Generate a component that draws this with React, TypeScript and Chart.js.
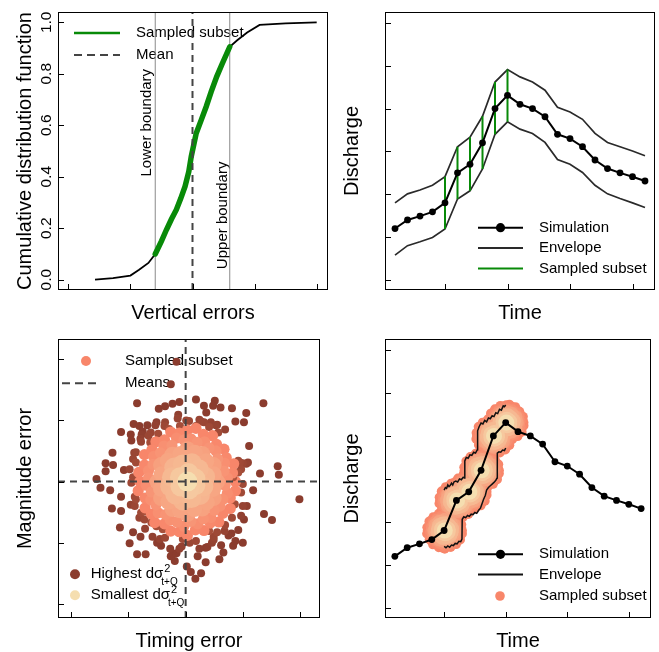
import React, { useEffect, useRef } from "react";
import { Chart, registerables } from "chart.js";
Chart.register(...registerables);

const FONT = '"Liberation Sans", Arial, Helvetica, sans-serif';

// ---------------- Panel A: CDF of vertical errors ----------------
const cdfErrors = [-1.57, -1.28, -1.0, -0.86, -0.71, -0.6, -0.5, -0.42, -0.34, -0.26, -0.19, -0.12, -0.06, -0.02, 0.06, 0.14, 0.22, 0.3, 0.39, 0.48, 0.6, 0.72, 0.88, 1.08, 1.5, 2.0];
const cdfProbs = [0, 0.006, 0.016, 0.039, 0.065, 0.1, 0.15, 0.194, 0.235, 0.272, 0.315, 0.362, 0.42, 0.479, 0.569, 0.62, 0.672, 0.73, 0.789, 0.84, 0.905, 0.93, 0.96, 0.99, 0.996, 1.0];
const subsetErrors = [-0.6, -0.5, -0.42, -0.34, -0.26, -0.19, -0.12, -0.06, -0.02, 0.06, 0.14, 0.22, 0.3, 0.39, 0.48, 0.6];
const subsetProbs = [0.1, 0.15, 0.194, 0.235, 0.272, 0.315, 0.362, 0.42, 0.479, 0.569, 0.62, 0.672, 0.73, 0.789, 0.84, 0.905];
const meanError = 0;
const lowerBoundary = -0.6;
const upperBoundary = 0.6;
const errorTicks = [-2, -1, 0, 1, 2];
const probTicks = [0, 0.2, 0.4, 0.6, 0.8, 1.0];
const probTickLabels = ["0.0", "0.2", "0.4", "0.6", "0.8", "1.0"];

// ---------------- Panels B & D: hydrograph ----------------
const timeSteps = [1, 2, 3, 4, 5, 6, 7, 8, 9, 10, 11, 12, 13, 14, 15, 16, 17, 18, 19, 20, 21];
const simulation = [1.2, 1.4, 1.49, 1.59, 1.8, 2.5, 2.7, 3.2, 4.0, 4.31, 4.1, 4.0, 3.81, 3.4, 3.3, 3.11, 2.8, 2.6, 2.5, 2.41, 2.31];
const envelopeUpper = [1.8, 2.01, 2.1, 2.21, 2.41, 3.11, 3.33, 3.82, 4.62, 4.91, 4.74, 4.62, 4.43, 4.03, 3.92, 3.75, 3.42, 3.21, 3.11, 3.01, 2.9];
const envelopeLower = [0.58, 0.8, 0.89, 0.99, 1.19, 1.89, 2.08, 2.59, 3.4, 3.69, 3.52, 3.42, 3.21, 2.81, 2.7, 2.51, 2.21, 2.01, 1.9, 1.8, 1.69];
const sampledSteps = [5, 6, 7, 8, 9, 10];
const timeTicks = [5, 10, 15, 20];
const dischargeTicks = [0, 1, 2, 3, 4, 5, 6];

// jagged envelope of panel D
const upperJagTime = [5.0, 5.1, 5.2, 5.3, 5.4, 5.5, 5.6, 5.7, 5.8, 5.95, 6.1, 6.25, 6.4, 6.55, 6.65, 6.68, 6.8, 6.95, 7.1, 7.25, 7.4, 7.55, 7.7, 7.72, 7.85, 8.0, 8.15, 8.3, 8.45, 8.6, 8.75, 8.9, 9.05, 9.2, 9.35, 9.5, 9.65, 9.8, 9.9, 10.0];
const upperJagQ = [2.74, 2.8, 2.78, 2.86, 2.82, 2.85, 2.9, 2.86, 2.93, 2.95, 2.93, 3.0, 2.98, 3.04, 3.02, 3.42, 3.5, 3.48, 3.56, 3.55, 3.62, 3.6, 3.68, 4.12, 4.22, 4.3, 4.28, 4.36, 4.33, 4.42, 4.4, 4.47, 4.45, 4.54, 4.52, 4.62, 4.6, 4.7, 4.68, 4.72];
const lowerJagTime = [5.0, 5.15, 5.3, 5.45, 5.6, 5.75, 5.9, 6.05, 6.2, 6.35, 6.45, 6.47, 6.6, 6.75, 6.9, 7.05, 7.2, 7.35, 7.5, 7.65, 7.8, 7.95, 8.05, 8.2, 8.35, 8.45, 8.6, 8.75, 8.9, 9.05, 9.2, 9.3, 9.32, 9.45, 9.6, 9.75, 9.9, 10.0];
const lowerJagQ = [1.43, 1.4, 1.44, 1.41, 1.46, 1.45, 1.5, 1.49, 1.55, 1.54, 1.6, 2.06, 2.12, 2.1, 2.15, 2.13, 2.18, 2.17, 2.22, 2.2, 2.27, 2.32, 2.4, 2.52, 2.62, 2.74, 2.8, 2.84, 2.88, 2.92, 2.97, 3.02, 3.6, 3.63, 3.62, 3.67, 3.66, 3.72];

// ---------------- Panel C: timing vs magnitude errors ----------------
// [timing error, magnitude error], points with highest dσ²
const outerErrors: [number, number][] = [
  [-0.16, 1.96], [-0.26, 1.59], [-0.85, 1.28], [-0.47, 1.19], [-0.36, 1.23], [-0.23, 1.27], [-0.11, 1.3], [0.18, 1.34], [0.32, 1.24], [0.51, 1.32],
  [0.61, 1.21], [0.36, 1.13], [0.81, 1.2], [1.06, 1.12], [1.36, 1.28], [0.87, 0.98], [1.02, 0.97], [-0.13, 1.09], [-0.14, 1.03], [-0.51, 0.97],
  [-0.36, 0.97], [-0.91, 0.94], [-0.81, 0.91], [-0.67, 0.92], [-1.13, 0.81], [-0.96, 0.77], [-0.95, 0.67], [-0.77, 0.77], [-0.61, 0.8], [-0.78, 0.65],
  [-0.9, 0.47], [-1.28, 0.47], [-1.4, 0.3], [-1.27, 0.27], [-1.4, 0.17], [-1.56, 0.04], [-1.49, -0.1], [-1.32, -0.14], [-1.08, 0.19], [-0.98, 0.2],
  [-0.92, 0.07], [-1.13, -0.25], [-0.89, -0.25], [-1.29, -0.44], [-1.13, -0.48], [-1.15, -0.75], [-0.92, -0.83], [-0.79, -0.9], [-0.98, -1.01], [-0.85, -1.19],
  [-0.7, -1.19], [-0.58, -0.9], [-0.45, -0.94], [-0.36, -0.92], [-0.27, -1.1], [-0.11, -1.1], [-0.16, -1.17], [-0.19, -1.3], [-0.43, -1.05], [-0.26, -1.22],
  [0.02, -1.39], [0.09, -1.48], [0.27, -1.5], [0.17, -1.59], [0.21, -1.22], [0.35, -1.08], [0.46, -1.0], [0.62, -1.04], [0.66, -1.16], [0.83, -1.05],
  [1.0, -1.0], [0.92, -0.79], [0.8, -0.85], [0.68, -0.81], [0.55, -0.83], [0.49, -0.9], [0.41, -0.81], [0.69, -0.71], [0.81, -0.59], [0.97, -0.56],
  [1.0, -0.4], [0.86, -0.37], [0.97, -0.18], [1.0, -0.04], [1.37, -0.53], [1.51, -0.63], [1.99, -0.29], [1.63, 0.11], [1.61, 0.25], [1.3, 0.13],
  [1.11, 0.58], [1.0, 0.3], [1.09, 0.31], [0.92, 0.34], [0.97, 0.2], [0.89, 0.15], [0.83, 0.07], [0.69, 0.53], [0.69, 0.85], [0.57, 0.8],
  [0.53, 0.92], [0.44, 0.97], [0.27, 0.98], [0.18, 0.91], [0.06, 0.99], [-0.1, 0.91], [-0.62, 0.64], [-0.87, 0.31], [-0.95, -0.02], [-0.89, -0.4],
  [-0.78, -0.51], [-0.72, -0.62], [-0.6, -0.67], [-0.51, -0.73], [-0.4, -0.78], [-0.05, -0.94], [0.07, -1.0], [0.18, -0.97], [1.18, -0.14], [1.07, -0.4],
  [1.02, -0.62], [0.87, -0.97], [0.59, -1.27], [0.35, -1.32], [0.38, -1.07], [0.24, -1.1], [0.75, -0.88], [0.49, -0.95], [-0.96, -0.38], [-0.87, -0.29],
  [-0.71, -0.77], [-0.5, -1.0], [-0.22, -1.18], [-0.07, -1.06], [-0.71, -0.49], [-0.81, -0.59], [0.48, 1.24], [0.24, 1.01], [0.32, 0.97], [0.41, 0.89],
  [0.55, 0.93], [0.95, 0.31], [1.06, 0.29], [0.92, 0.15], [0.01, 1.0], [-0.53, 0.92], [-0.75, 0.82], [-0.79, 0.7], [-0.65, 0.75], [-0.48, 0.78],
  [-0.37, 0.91], [-0.29, 0.86], [-0.87, 0.48], [-0.92, 0.37],
];
// [timing error, magnitude error], sampled subset (smallest dσ²)
const sampledErrors: [number, number][] = [
  [0.87, 0.0], [0.82, 0.14], [0.84, 0.29], [0.71, 0.39], [0.67, 0.53], [0.54, 0.61], [0.47, 0.75], [0.31, 0.77], [0.18, 0.87], [0.03, 0.84],
  [-0.11, 0.79], [-0.26, 0.81], [-0.37, 0.68], [-0.52, 0.65], [-0.59, 0.52], [-0.72, 0.44], [-0.72, 0.27], [-0.82, 0.15], [-0.8, 0.0], [-0.83, -0.15],
  [-0.71, -0.27], [-0.71, -0.43], [-0.6, -0.53], [-0.54, -0.67], [-0.37, -0.69], [-0.26, -0.81], [-0.11, -0.82], [0.03, -0.88], [0.17, -0.79], [0.32, -0.8],
  [0.43, -0.68], [0.58, -0.66], [0.65, -0.52], [0.78, -0.44], [0.78, -0.27], [0.87, -0.15],
  [0.73, 0.06], [0.67, 0.17], [0.68, 0.3], [0.56, 0.37], [0.53, 0.5], [0.41, 0.55], [0.33, 0.65], [0.2, 0.64], [0.09, 0.7], [-0.03, 0.68],
  [-0.16, 0.71], [-0.24, 0.59], [-0.38, 0.58], [-0.44, 0.47], [-0.56, 0.41], [-0.57, 0.28], [-0.65, 0.18], [-0.65, 0.06], [-0.69, -0.06], [-0.6, -0.17],
  [-0.61, -0.3], [-0.52, -0.38], [-0.48, -0.51], [-0.35, -0.54], [-0.27, -0.63], [-0.15, -0.66], [-0.03, -0.73], [0.09, -0.65], [0.21, -0.69], [0.31, -0.61],
  [0.44, -0.59], [0.5, -0.47], [0.6, -0.4], [0.65, -0.29], [0.73, -0.19], [0.69, -0.06],
  [0.55, 0.0], [0.49, 0.12], [0.49, 0.27], [0.36, 0.33], [0.29, 0.45], [0.16, 0.47], [0.03, 0.53], [-0.09, 0.45], [-0.23, 0.44], [-0.31, 0.34],
  [-0.43, 0.27], [-0.42, 0.12], [-0.49, 0.0], [-0.43, -0.12], [-0.43, -0.27], [-0.3, -0.33], [-0.23, -0.45], [-0.1, -0.47], [0.03, -0.53], [0.15, -0.45],
  [0.29, -0.44], [0.37, -0.34], [0.49, -0.27], [0.48, -0.12],
  [0.34, 0.08], [0.23, 0.2], [0.11, 0.3], [-0.05, 0.28], [-0.2, 0.23], [-0.24, 0.07], [-0.27, -0.08], [-0.18, -0.21], [-0.05, -0.31], [0.1, -0.27],
  [0.25, -0.22], [0.31, -0.08],
  [0.17, 0.05], [0.05, 0.14], [-0.1, 0.07], [-0.09, -0.08], [0.06, -0.13], [0.17, -0.06], [0.03, 0.0],
];
const meanTiming = 0;
const meanMagnitude = 0;
const timingTicks = [-2, -1, 0, 1, 2];
const magnitudeTicks = [-2, -1, 0, 1, 2];

// ---------------- styles ----------------
const GREEN = "#088a08";
const WHEAT = [245, 222, 176];
const SALMON = [248, 134, 106];
const BROWN = [139, 60, 46];
const BROWN_EDGE = [172, 82, 60];
const DISC_CENTER = 0.03;

const mix = (a: number[], b: number[], t: number) =>
  `rgb(${a.map((v, i) => Math.round(v + (b[i] - v) * t)).join(",")})`;
const radiusOf = (t: number, m: number) => Math.hypot(t - DISC_CENTER, m);
const discColor = (r: number) => mix(WHEAT, SALMON, Math.pow(Math.min(1, r / 0.82), 0.8));
const outerColor = (r: number) => mix(BROWN_EDGE, BROWN, Math.max(0, Math.min(1, (r - 0.85) / 0.3)));
const discSize = (r: number, sizes: number[]) => (r > 0.6 ? sizes[0] : r > 0.4 ? sizes[1] : sizes[2]);

function drawText(ctx: CanvasRenderingContext2D, s: string, x: number, y: number, size: number,
  align: CanvasTextAlign = "left", rot = 0, color = "#000") {
  ctx.save();
  ctx.translate(x, y);
  if (rot) ctx.rotate(rot);
  ctx.font = `${size}px ${FONT}`;
  ctx.fillStyle = color;
  ctx.textAlign = align;
  ctx.textBaseline = "middle";
  ctx.fillText(s, 0, 0);
  ctx.restore();
}
function legendLine(ctx: CanvasRenderingContext2D, x1: number, x2: number, y: number, color: string, w: number, dash: number[] = []) {
  ctx.save();
  ctx.strokeStyle = color; ctx.lineWidth = w; ctx.setLineDash(dash);
  ctx.beginPath(); ctx.moveTo(x1, y); ctx.lineTo(x2, y); ctx.stroke();
  ctx.restore();
}
function legendDot(ctx: CanvasRenderingContext2D, x: number, y: number, r: number, color: string) {
  ctx.save(); ctx.fillStyle = color; ctx.beginPath(); ctx.arc(x, y, r, 0, Math.PI * 2); ctx.fill(); ctx.restore();
}
function sigmaLabel(ctx: CanvasRenderingContext2D, word: string, x: number, y: number) {
  const base = word + " dσ";
  drawText(ctx, base, x, y, 15);
  ctx.save(); ctx.font = `15px ${FONT}`; const w = ctx.measureText(base).width; ctx.restore();
  drawText(ctx, "2", x + w + 1, y - 5, 11);
  drawText(ctx, "t+Q", x + w - 2, y + 8, 10);
}

type FrameSpec = {
  xTicks: number[]; yTicks: number[]; yTickLabels?: string[];
  xTitle: string; yTitle: string;
  under?: (ctx: CanvasRenderingContext2D, chart: any) => void;
};
function framePlugin(spec: FrameSpec) {
  return {
    id: "frame",
    beforeDatasetsDraw(chart: any) {
      if (spec.under) { chart.ctx.save(); spec.under(chart.ctx, chart); chart.ctx.restore(); }
    },
    afterDatasetsDraw(chart: any) {
      const ctx: CanvasRenderingContext2D = chart.ctx;
      const a = chart.chartArea; const xs = chart.scales.x; const ys = chart.scales.y;
      ctx.save();
      ctx.strokeStyle = "#000"; ctx.lineWidth = 1; ctx.setLineDash([]);
      ctx.strokeRect(a.left + 0.5, a.top + 0.5, a.right - a.left - 1, a.bottom - a.top - 1);
      ctx.beginPath();
      for (const v of spec.xTicks) {
        const px = Math.round(xs.getPixelForValue(v)) + 0.5;
        ctx.moveTo(px, a.bottom); ctx.lineTo(px, a.bottom - 6);
      }
      for (const v of spec.yTicks) {
        const py = Math.round(ys.getPixelForValue(v)) + 0.5;
        ctx.moveTo(a.left, py); ctx.lineTo(a.left + 6, py);
      }
      ctx.stroke();
      if (spec.yTickLabels) {
        spec.yTicks.forEach((v, i) => {
          drawText(ctx, spec.yTickLabels![i], a.left - 11, ys.getPixelForValue(v), 15.5, "center", -Math.PI / 2);
        });
      }
      drawText(ctx, spec.xTitle, (a.left + a.right) / 2, a.bottom + 23, 20, "center");
      drawText(ctx, spec.yTitle, a.left - 33, (a.top + a.bottom) / 2, 20, "center", -Math.PI / 2);
      ctx.restore();
    },
  };
}

function baseOptions(xr: number[], yr: number[], pad: any) {
  return {
    responsive: false,
    animation: false as const,
    devicePixelRatio: 1,
    events: [],
    layout: { padding: pad },
    plugins: { legend: { display: false }, tooltip: { enabled: false }, colors: { enabled: false } },
    scales: {
      x: { type: "linear" as const, min: xr[0], max: xr[1], display: false },
      y: { type: "linear" as const, min: yr[0], max: yr[1], display: false },
    },
    elements: { line: { tension: 0 }, point: { radius: 0, hoverRadius: 0 } },
  };
}

const ERR_RANGE = [-2.166, 2.182];
const PROB_RANGE = [-0.04, 1.04];
const TIME_RANGE = [0.2, 21.8];
const Q_RANGE = [-0.235, 6.255];
const TIMING_RANGE = [-2.233, 2.35];
const MAG_RANGE = [-2.23, 2.33];

const pts = (xs: number[], ys: number[]) => xs.map((x, i) => ({ x, y: ys[i] }));

function configA(): any {
  return {
    type: "line",
    data: {
      datasets: [
        { data: [{ x: meanError, y: PROB_RANGE[0] }, { x: meanError, y: PROB_RANGE[1] }], borderColor: "#444", borderWidth: 2, borderDash: [7, 5], order: 0 },
        { data: pts(subsetErrors, subsetProbs), borderColor: GREEN, borderWidth: 5.5, borderCapStyle: "round", order: 1 },
        { data: pts(cdfErrors, cdfProbs), borderColor: "#000", borderWidth: 1.8, order: 2 },
        { data: [{ x: lowerBoundary, y: PROB_RANGE[0] }, { x: lowerBoundary, y: PROB_RANGE[1] }], borderColor: "#8a8a8a", borderWidth: 1, order: 3 },
        { data: [{ x: upperBoundary, y: PROB_RANGE[0] }, { x: upperBoundary, y: PROB_RANGE[1] }], borderColor: "#8a8a8a", borderWidth: 1, order: 3 },
      ],
    },
    options: baseOptions(ERR_RANGE, PROB_RANGE, { left: 58, top: 12, right: 2, bottom: 36 }),
    plugins: [framePlugin({
      xTicks: errorTicks, yTicks: probTicks, yTickLabels: probTickLabels,
      xTitle: "Vertical errors", yTitle: "Cumulative distribution function",
      under: (ctx, chart) => {
        legendLine(ctx, 74, 120, 33, GREEN, 2.5);
        drawText(ctx, "Sampled subset", 136, 33, 15);
        legendLine(ctx, 74, 120, 55, "#444", 2, [8, 5]);
        drawText(ctx, "Mean", 136, 55, 15);
        const xs = chart.scales.x, ys = chart.scales.y;
        drawText(ctx, "Lower boundary", xs.getPixelForValue(lowerBoundary) - 8, ys.getPixelForValue(0.61), 15, "center", -Math.PI / 2);
        drawText(ctx, "Upper boundary", xs.getPixelForValue(upperBoundary) - 7, ys.getPixelForValue(0.25), 15, "center", -Math.PI / 2);
      },
    })],
  };
}

function configB(): any {
  const segs: any[] = [];
  sampledSteps.forEach((s) => {
    segs.push({ x: s, y: envelopeLower[s - 1] }, { x: s, y: envelopeUpper[s - 1] }, { x: s, y: null });
  });
  return {
    type: "line",
    data: {
      datasets: [
        { data: pts(timeSteps, simulation), borderColor: "#000", borderWidth: 2, pointRadius: 3.4, pointBackgroundColor: "#000", pointBorderWidth: 0, order: 0 },
        { data: segs, borderColor: GREEN, borderWidth: 2, spanGaps: false, order: 1 },
        { data: pts(timeSteps, envelopeUpper), borderColor: "#2a2a2a", borderWidth: 1.7, order: 2 },
        { data: pts(timeSteps, envelopeLower), borderColor: "#2a2a2a", borderWidth: 1.7, order: 2 },
      ],
    },
    options: baseOptions(TIME_RANGE, Q_RANGE, { left: 55, top: 12, right: 4, bottom: 36 }),
    plugins: [framePlugin({
      xTicks: timeTicks, yTicks: dischargeTicks, xTitle: "Time", yTitle: "Discharge",
      under: (ctx) => {
        legendLine(ctx, 148, 193, 227.7, "#000", 2); legendDot(ctx, 170.5, 227.7, 4.6, "#000");
        drawText(ctx, "Simulation", 209, 227.7, 15);
        legendLine(ctx, 148, 193, 248, "#2a2a2a", 1.8);
        drawText(ctx, "Envelope", 209, 248, 15);
        legendLine(ctx, 148, 193, 268.5, GREEN, 2);
        drawText(ctx, "Sampled subset", 209, 268.5, 15);
      },
    })],
  };
}

function configC(): any {
  const all = [
    ...outerErrors.map(([t, m]) => { const r = radiusOf(t, m); return { x: t, y: m, r, c: outerColor(r), s: 4 }; }),
    ...sampledErrors.map(([t, m]) => { const r = radiusOf(t, m); return { x: t, y: m, r, c: discColor(r), s: discSize(r, [5.6, 8, 10]) }; }),
  ].sort((a, b) => b.r - a.r);
  return {
    type: "line",
    data: {
      datasets: [
        { data: [{ x: meanTiming, y: MAG_RANGE[0] }, { x: meanTiming, y: MAG_RANGE[1] }], borderColor: "#444", borderWidth: 2, borderDash: [7, 5], order: 0 },
        { data: [{ x: TIMING_RANGE[0], y: meanMagnitude }, { x: TIMING_RANGE[1], y: meanMagnitude }], borderColor: "#444", borderWidth: 2, borderDash: [7, 5], order: 0 },
        {
          data: all.map((p) => ({ x: p.x, y: p.y })), showLine: false,
          pointRadius: all.map((p) => p.s), pointBackgroundColor: all.map((p) => p.c),
          pointBorderWidth: 0, order: 1,
        },
      ],
    },
    options: baseOptions(TIMING_RANGE, MAG_RANGE, { left: 58, top: 13, right: 2, bottom: 34 }),
    plugins: [framePlugin({
      xTicks: timingTicks, yTicks: magnitudeTicks, xTitle: "Timing error", yTitle: "Magnitude error",
      under: (ctx) => {
        legendDot(ctx, 86, 35, 5, mix(SALMON, SALMON, 0));
        drawText(ctx, "Sampled subset", 125, 35, 15);
        legendLine(ctx, 62, 100, 57.3, "#444", 2, [8, 5]);
        drawText(ctx, "Means", 125, 57.3, 15);
        legendDot(ctx, 75, 248.3, 5, mix(BROWN, BROWN, 0));
        sigmaLabel(ctx, "Highest", 90.7, 248.3);
        legendDot(ctx, 75, 269.3, 5, mix(WHEAT, WHEAT, 0));
        sigmaLabel(ctx, "Smallest", 90.7, 269.3);
      },
    })],
  };
}

function configD(): any {
  const blob: any[] = [];
  sampledSteps.forEach((s) => {
    sampledErrors.forEach(([t, m]) => {
      const r = radiusOf(t, m);
      blob.push({ x: s + t * 1.7, y: simulation[s - 1] + m * 0.49, r, c: discColor(r), s: discSize(r, [4.6, 6.5, 8]) });
    });
  });
  blob.sort((a, b) => b.r - a.r);
  return {
    type: "line",
    data: {
      datasets: [
        { data: pts(timeSteps, simulation), borderColor: "#000", borderWidth: 2, pointRadius: 3.4, pointBackgroundColor: "#000", pointBorderWidth: 0, order: 0 },
        { data: pts(upperJagTime, upperJagQ), borderColor: "#111", borderWidth: 1.5, order: 1 },
        { data: pts(lowerJagTime, lowerJagQ), borderColor: "#111", borderWidth: 1.5, order: 1 },
        {
          data: blob.map((p) => ({ x: p.x, y: p.y })), showLine: false,
          pointRadius: blob.map((p) => p.s), pointBackgroundColor: blob.map((p) => p.c),
          pointBorderWidth: 0, order: 2,
        },
      ],
    },
    options: baseOptions(TIME_RANGE, Q_RANGE, { left: 55, top: 13, right: 4, bottom: 34 }),
    plugins: [framePlugin({
      xTicks: timeTicks, yTicks: dischargeTicks, xTitle: "Time", yTitle: "Discharge",
      under: (ctx) => {
        legendLine(ctx, 148, 193, 228.3, "#000", 2); legendDot(ctx, 170.5, 228.3, 4.6, "#000");
        drawText(ctx, "Simulation", 209, 228.3, 15);
        legendLine(ctx, 148, 193, 248.5, "#111", 1.8);
        drawText(ctx, "Envelope", 209, 248.5, 15);
        legendDot(ctx, 170, 270, 4.8, mix(SALMON, SALMON, 0));
        drawText(ctx, "Sampled subset", 209, 270, 15);
      },
    })],
  };
}

export default function App() {
  const a = useRef<HTMLCanvasElement>(null);
  const b = useRef<HTMLCanvasElement>(null);
  const c = useRef<HTMLCanvasElement>(null);
  const d = useRef<HTMLCanvasElement>(null);
  useEffect(() => {
    const charts = [
      new Chart(a.current!, configA()),
      new Chart(b.current!, configB()),
      new Chart(c.current!, configC()),
      new Chart(d.current!, configD()),
    ];
    return () => charts.forEach((ch) => ch.destroy());
  }, []);
  const st = (left: number, top: number): React.CSSProperties => ({ position: "absolute", left, top });
  return (
    <div style={{ position: "fixed", left: 0, top: 0, width: 659, height: 652, background: "#fff" }}>
      <canvas ref={a} width={330} height={326} style={st(0, 0)} />
      <canvas ref={b} width={329} height={326} style={st(330, 0)} />
      <canvas ref={c} width={330} height={326} style={st(0, 326)} />
      <canvas ref={d} width={329} height={326} style={st(330, 326)} />
    </div>
  );
}
